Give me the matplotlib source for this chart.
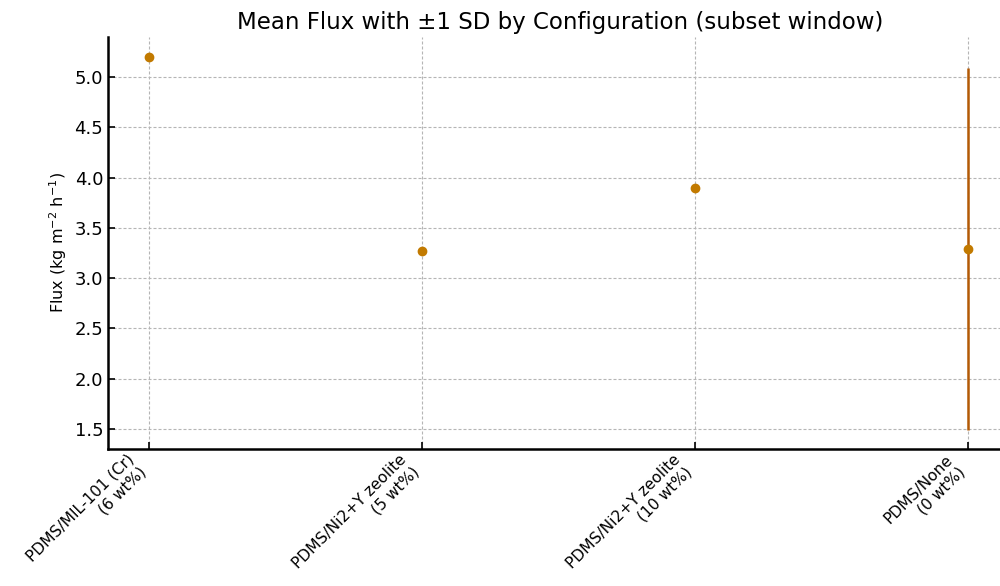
import matplotlib
matplotlib.use("Agg")
import matplotlib.pyplot as plt
import numpy as np

categories = ["PDMS/MIL-101 (Cr)\n(6 wt%)",
              "PDMS/Ni2+Y zeolite\n(5 wt%)",
              "PDMS/Ni2+Y zeolite\n(10 wt%)",
              "PDMS/None\n(0 wt%)"]
mean_flux = [5.20, 3.265, 3.90, 3.29]
sd_flux = [0.0, 0.0, 0.0, 1.80]

fig = plt.figure(figsize=(10, 5.86), dpi=100)
ax = fig.add_axes([0.108, 0.234, 0.904, 0.703])

x = np.arange(len(categories))
ax.errorbar(x, mean_flux, yerr=sd_flux, fmt='o', color='#c27a00',
            ecolor='#b35a06', elinewidth=1.8, markersize=6, capsize=0,
            zorder=3)

ax.set_xlim(-0.15, 3.16)
ax.set_ylim(1.30, 5.40)
ax.set_yticks([1.5, 2.0, 2.5, 3.0, 3.5, 4.0, 4.5, 5.0])
ax.set_xticks(x)
ax.set_xticklabels(categories, rotation=45, ha='right', fontsize=11.2)
ax.tick_params(axis='both', direction='in', length=5, width=1.2)
ax.tick_params(axis='x', pad=2)
ax.tick_params(axis='y', labelsize=13)
ax.grid(True, linestyle=(0, (2.7, 1.8)), color='#b5b5b5', linewidth=0.8)
ax.set_axisbelow(True)
for s in ['top', 'right']:
    ax.spines[s].set_visible(False)
for s in ['left', 'bottom']:
    ax.spines[s].set_linewidth(1.8)

ax.set_ylabel("Flux (kg m$^{-2}$ h$^{-1}$)", fontsize=11.5)
ax.set_title("Mean Flux with \u00b11 SD by Configuration (subset window)", fontsize=16.5, pad=6)

fig.savefig("out.png", dpi=100)
